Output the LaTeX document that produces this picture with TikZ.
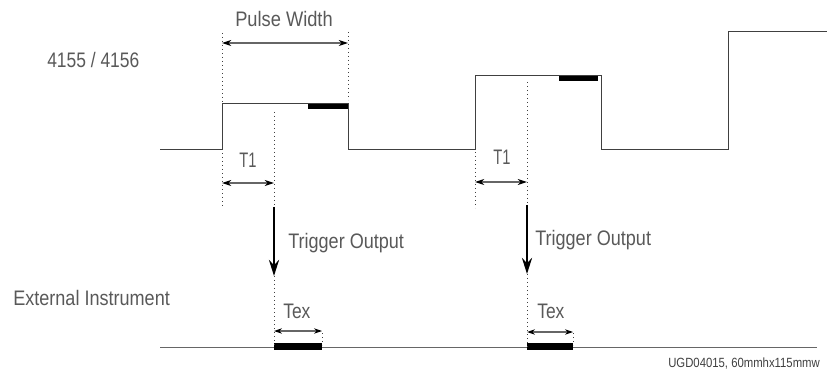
\documentclass[tikz,border=0pt]{standalone}
\usepackage{fontspec}
\setmainfont{Liberation Sans}
\usetikzlibrary{arrows.meta}
\begin{document}
\begin{tikzpicture}[x=0.75pt,y=-0.75pt,
  sig/.style={draw=black!75, line width=0.75pt},
  barfill/.style={fill=black, draw=none},
  dots/.style={draw=black!75, line width=0.6pt, dash pattern=on 0.6pt off 2.4pt},
  dim/.style={draw=black!60, line width=0.8pt,
    {Stealth[length=7pt,width=4.5pt,black]}-{Stealth[length=7pt,width=4.5pt,black]}},
  trig/.style={draw=black, line width=2.2pt, -{Stealth[length=12pt,width=7.5pt]}},
  lbl/.style={inner sep=0pt, anchor=base west, text=black!65,
    font=\fontsize{15.75pt}{18pt}\selectfont},
  smalllbl/.style={inner sep=0pt, anchor=base west, text=black!75,
    font=\fontsize{10pt}{12pt}\selectfont},
]
\useasboundingbox (0,0) rectangle (827,370);

% signal of 4155/4156
\coordinate (s0) at (160,150);
\coordinate (r1b) at (222,150);
\coordinate (r1t) at (222,104);
\coordinate (f1t) at (348,104);
\coordinate (f1b) at (348,150);
\coordinate (r2b) at (475,150);
\coordinate (r2t) at (475,76);
\coordinate (f2t) at (601,76);
\coordinate (f2b) at (601,150);
\coordinate (r3b) at (728,150);
\coordinate (r3t) at (728,32);
\coordinate (send) at (827,32);
\draw[sig] (s0) -- (r1b) -- (r1t) -- (f1t) -- (f1b) -- (r2b) -- (r2t) -- (f2t) -- (f2b) -- (r3b) -- (r3t) -- (send);

% thick marks on pulse tops
\fill[barfill] (308,104) rectangle (348,109);
\fill[barfill] (559,76) rectangle (598,81);

% external instrument line
\coordinate (e0) at (160,347);
\coordinate (e1) at (817,347);
\draw[sig, draw=black!60] (e0) -- (e1);
\fill[barfill] (274,343) rectangle (322,350);
\fill[barfill] (527,343) rectangle (573,350);

% dotted guide lines
\coordinate (d1a) at (222,33);  \coordinate (d1b) at (222,208);
\coordinate (d2a) at (348,32);  \coordinate (d2b) at (348,100);
\coordinate (d3a) at (274,112); \coordinate (d3b) at (274,347);
\coordinate (d4a) at (475,152); \coordinate (d4b) at (475,208);
\coordinate (d5a) at (527,82);  \coordinate (d5b) at (527,347);
\coordinate (d6a) at (322,333); \coordinate (d6b) at (322,345);
\coordinate (d7a) at (573,333); \coordinate (d7b) at (573,345);
\foreach \a/\b in {d1a/d1b,d2a/d2b,d3a/d3b,d4a/d4b,d5a/d5b,d6a/d6b,d7a/d7b}
  \draw[dots] (\a) -- (\b);

% dimension arrows
\coordinate (pwL) at (222,43);  \coordinate (pwR) at (348,43);
\coordinate (t1L) at (222,183); \coordinate (t1R) at (274,183);
\coordinate (t2L) at (475,182); \coordinate (t2R) at (527,182);
\coordinate (x1L) at (274,331); \coordinate (x1R) at (322,331);
\coordinate (x2L) at (527,332); \coordinate (x2R) at (573,332);
\draw[dim] (pwL) -- (pwR);
\draw[dim] (t1L) -- (t1R);
\draw[dim] (t2L) -- (t2R);
\draw[dim, {Stealth[length=6pt,width=4pt,black]}-{Stealth[length=6pt,width=4pt,black]}] (x1L) -- (x1R);
\draw[dim, {Stealth[length=6pt,width=4pt,black]}-{Stealth[length=6pt,width=4pt,black]}] (x2L) -- (x2R);

% trigger arrows
\coordinate (tg1a) at (274,207); \coordinate (tg1b) at (274,276);
\coordinate (tg2a) at (527,205); \coordinate (tg2b) at (527,274);
\draw[trig] (tg1a) -- (tg1b);
\draw[trig] (tg2a) -- (tg2b);

% labels
\node[lbl] (lab4155) at (47,68) {\scalebox{0.83}[1]{4155 / 4156}};
\node[lbl] (labext) at (13,305) {\scalebox{0.86}[1]{External Instrument}};
\node[lbl] (labpw) at (235,27) {\scalebox{0.87}[1]{Pulse Width}};
\node[lbl] (labt1a) at (239,168) {\scalebox{0.7}[1]{T1}};
\node[lbl] (labt1b) at (493,165) {\scalebox{0.7}[1]{T1}};
\node[lbl] (labtrg1) at (288,248) {\scalebox{0.86}[1]{Trigger Output}};
\node[lbl] (labtrg2) at (535,245) {\scalebox{0.86}[1]{Trigger Output}};
\node[lbl] (labtex1) at (283,318) {\scalebox{0.83}[1]{Tex}};
\node[lbl] (labtex2) at (537,318) {\scalebox{0.83}[1]{Tex}};
\node[smalllbl] (labugd) at (668,367) {\scalebox{0.85}[1]{UGD04015, 60mmhx115mmw}};
\end{tikzpicture}
\end{document}
